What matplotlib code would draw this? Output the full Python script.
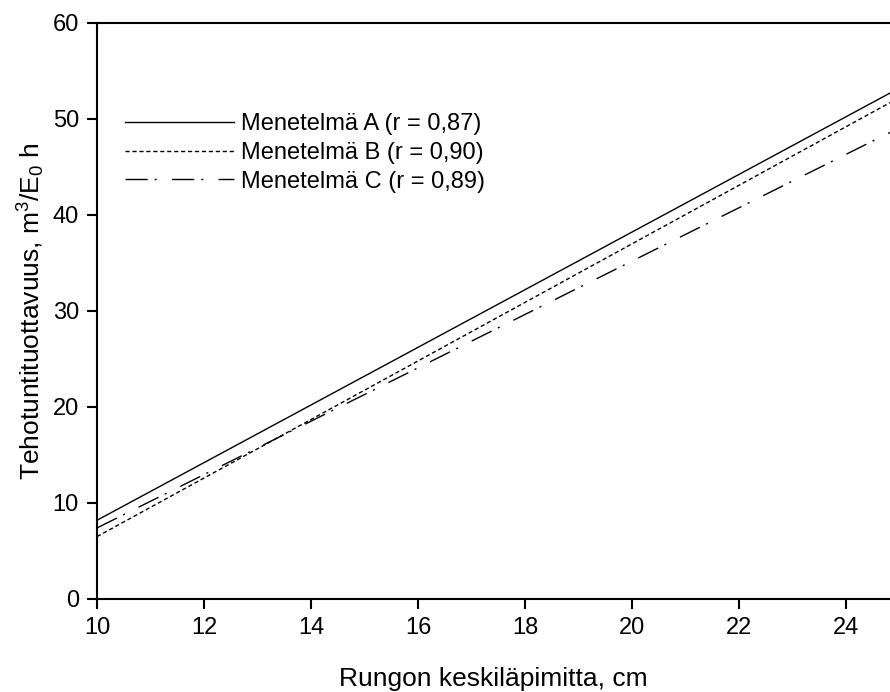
import numpy as np
import matplotlib
matplotlib.use("Agg")
import matplotlib.pyplot as plt

plt.rcParams['font.family'] = ['Liberation Sans', 'DejaVu Sans']
plt.rcParams['mathtext.fontset'] = 'custom'
plt.rcParams['mathtext.rm'] = 'Liberation Sans'
plt.rcParams['mathtext.it'] = 'Liberation Sans'

# regression lines, read at both ends of the x range
diameter = np.array([10.0, 24.82])
method_a = np.array([8.2, 52.7])
method_b = np.array([6.5, 51.7])
method_c = np.array([7.4, 48.6])
labels = ['Menetelmä A (r = 0,87)', 'Menetelmä B (r = 0,90)', 'Menetelmä C (r = 0,89)']

fig = plt.figure(figsize=(8.9, 6.92), dpi=100)
ax = fig.add_axes([0.109, 0.1344, 0.891, 0.8324])

ax.plot(diameter, method_a, color='black', lw=1.0, label=labels[0])
ax.plot(diameter, method_b, color='black', lw=1.0, linestyle=(0, (3, 2)), label=labels[1])
ax.plot(diameter, method_c, color='black', lw=1.0, linestyle=(0, (16, 5, 1.5, 11)), label=labels[2])

ax.set_xlim(10, 24.82)
ax.set_ylim(0, 60)
ax.set_xticks(np.arange(10, 25, 2))
ax.set_yticks(np.arange(0, 61, 10))
ax.spines['right'].set_visible(False)
for s in ['left', 'bottom', 'top']:
    ax.spines[s].set_linewidth(1.5)
ax.tick_params(direction='out', length=7, width=1.5, labelsize=17, pad=6)

ax.set_xlabel('Rungon keskiläpimitta, cm', fontsize=19, labelpad=20)
ax.set_ylabel('Tehotuntituottavuus, m$^3$/E$_0$ h', fontsize=19, labelpad=4)

ax.legend(loc='upper left', bbox_to_anchor=(0.0, 0.893), frameon=False, fontsize=17,
          handlelength=4.6, handletextpad=0.3, labelspacing=0.29, borderaxespad=0.8)

fig.savefig('out.png', dpi=100)
